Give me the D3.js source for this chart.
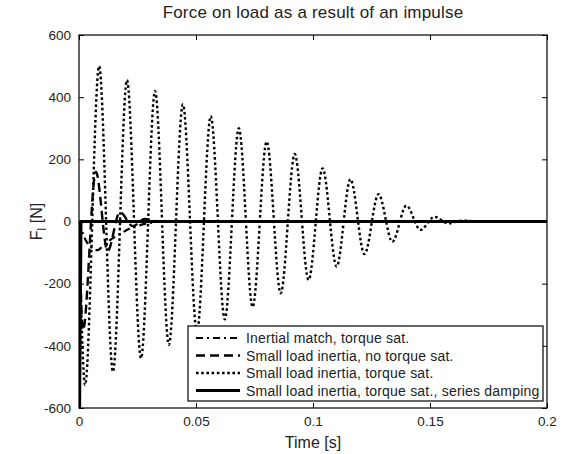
<!DOCTYPE html>
<html>
<head>
<meta charset="utf-8">
<script src="https://cdn.jsdelivr.net/npm/d3@7"></script>
<style>
  body { margin: 0; background: #fff; }
  text { font-family: "Liberation Sans", Arial, sans-serif; fill: #222; }
</style>
</head>
<body>
<script>
// series: time [s] and force [N]
let tInertial = [0, 0.0015, 0.003, 0.0055, 0.0078, 0.011, 0.014, 0.018, 0.022, 0.0265, 0.03, 0.034, 0.04, 0.2];
let fInertial = [0, -35, -62, -85, -92, -72, -56, -38, -22, -11, -5, -1, 0, 0];

let tNoSat = [0, 0.0017, 0.0072, 0.0122, 0.0175, 0.023, 0.028, 0.034, 0.2];
let fNoSat = [0, -350, 160, -95, 30, -15, 8, 0, 0];

let tSat = [0, 0.0026, 0.0086, 0.0145, 0.0205, 0.0265, 0.0325, 0.0384, 0.0444, 0.0504, 0.0563,
            0.0623, 0.0683, 0.0742, 0.0802, 0.0862, 0.0922, 0.0981, 0.1041, 0.1101, 0.116,
            0.122, 0.128, 0.1339, 0.1399, 0.1459, 0.1519, 0.1578, 0.1638, 0.17, 0.2];
let fSat = [0, -526, 500, -483, 455, -440, 420, -397, 377, -355, 339,
            -315, 300, -275, 257, -231, 217, -188, 171, -145, 136,
            -105, 88, -65, 51, -27, 15, -6, 3, 0, 0];

let tDamp = [0, 0.0003, 0.0009, 0.2];
let fDamp = [0, -600, 0, 0];

let legendLabels = ["Inertial match, torque sat.", "Small load inertia, no torque sat.",
                    "Small load inertia, torque sat.", "Small load inertia, torque sat., series damping"];
let xTicks = [0, 0.05, 0.1, 0.15, 0.2];
let yTicks = [-600, -400, -200, 0, 200, 400, 600];

let width = 562, height = 454;
let mLeft = 79, mRight = 547, mTop = 35, mBottom = 408;

let svg = d3.select("body").append("svg")
    .attr("width", width)
    .attr("height", height);

let x = d3.scaleLinear().domain([0, 0.2]).range([mLeft, mRight]);
let y = d3.scaleLinear().domain([-600, 600]).range([mBottom, mTop]);

svg.append("defs").append("clipPath").attr("id", "clip")
    .append("rect")
    .attr("x", mLeft).attr("y", mTop)
    .attr("width", mRight - mLeft).attr("height", mBottom - mTop);

// line styles, in draw order
let styles = [
    {dash: "7,4,2,4", w: 2.2},
    {dash: "9,5", w: 2.4},
    {dash: "2.6,2.6", w: 2.4},
    {dash: null, w: 2.8}
];

let series = [
    d3.zip(tInertial, fInertial),
    d3.zip(tNoSat, fNoSat),
    d3.zip(tSat, fSat),
    d3.zip(tDamp, fDamp)
];

let smooth = d3.line().x(d => x(d[0])).y(d => y(d[1])).curve(d3.curveMonotoneX);
let straight = d3.line().x(d => x(d[0])).y(d => y(d[1]));

let plot = svg.append("g").attr("clip-path", "url(#clip)");

series.forEach(function(s, i) {
    plot.append("path")
        .datum(s)
        .attr("fill", "none")
        .attr("stroke", "#000")
        .attr("stroke-width", styles[i].w)
        .attr("stroke-dasharray", styles[i].dash)
        .attr("d", i == 3 ? straight : smooth);
});

// axes box with inward ticks on every side
let tickLen = 5;
let axisBottom = d3.axisBottom(x).tickValues(xTicks).tickSize(-tickLen).tickPadding(8)
    .tickFormat(d => d == 0 ? "0" : String(d));
let axisTop = d3.axisTop(x).tickValues(xTicks).tickSize(-tickLen).tickFormat("");
let axisLeft = d3.axisLeft(y).tickValues(yTicks).tickSize(-tickLen).tickPadding(8)
    .tickFormat(d => String(d));
let axisRight = d3.axisRight(y).tickValues(yTicks).tickSize(-tickLen).tickFormat("");

function styleAxis(g) {
    g.select(".domain").remove();
    g.selectAll("line").attr("stroke", "#000");
    g.selectAll("text").style("font-size", "13.5px").attr("fill", "#222")
        .style("font-family", "'Liberation Sans', Arial, sans-serif");
}

svg.append("g").attr("transform", "translate(0," + mBottom + ")").call(axisBottom).call(styleAxis);
svg.append("g").attr("transform", "translate(0," + mTop + ")").call(axisTop).call(styleAxis);
svg.append("g").attr("transform", "translate(" + mLeft + ",0)").call(axisLeft).call(styleAxis);
svg.append("g").attr("transform", "translate(" + mRight + ",0)").call(axisRight).call(styleAxis);

svg.append("rect")
    .attr("x", mLeft).attr("y", mTop)
    .attr("width", mRight - mLeft).attr("height", mBottom - mTop)
    .attr("fill", "none").attr("stroke", "#000").attr("stroke-width", 1.2);

// title and axis labels
svg.append("text")
    .attr("x", (mLeft + mRight) / 2).attr("y", 18)
    .attr("text-anchor", "middle")
    .style("font-size", "17px")
    .style("letter-spacing", "0.2px")
    .text("Force on load as a result of an impulse");

svg.append("text")
    .attr("x", (mLeft + mRight) / 2).attr("y", 448)
    .attr("text-anchor", "middle")
    .style("font-size", "16px")
    .text("Time [s]");

let ylab = svg.append("text")
    .attr("transform", "translate(42," + ((mTop + mBottom) / 2) + ") rotate(-90)")
    .attr("text-anchor", "middle")
    .style("font-size", "16px");
ylab.append("tspan").text("F");
ylab.append("tspan").attr("dy", 4).style("font-size", "12px").text("l");
ylab.append("tspan").attr("dy", -4).text(" [N]");

// legend
let lg = svg.append("g");
lg.append("rect")
    .attr("x", 188).attr("y", 326)
    .attr("width", 355).attr("height", 75)
    .attr("fill", "#fff").attr("stroke", "#000").attr("stroke-width", 1.2);

legendLabels.forEach(function(lab, i) {
    let ly = 338 + i * 17.5;
    lg.append("line")
        .attr("x1", 196).attr("x2", 240)
        .attr("y1", ly).attr("y2", ly)
        .attr("stroke", "#000")
        .attr("stroke-width", styles[i].w)
        .attr("stroke-dasharray", styles[i].dash);
    lg.append("text")
        .attr("x", 246).attr("y", ly + 5)
        .style("font-size", "14px")
        .style("letter-spacing", "0.2px")
        .text(lab);
});
</script>
</body>
</html>
